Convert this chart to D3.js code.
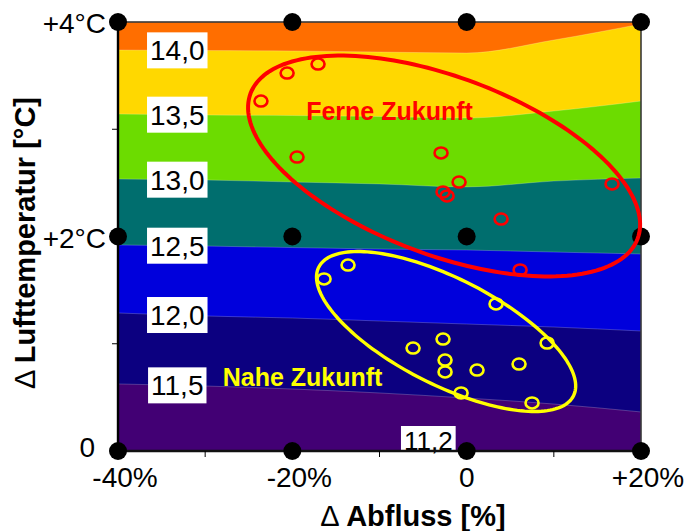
<!DOCTYPE html>
<html>
<head>
<meta charset="utf-8">
<script src="https://cdn.jsdelivr.net/npm/d3@7"></script>
<style>
  body { margin: 0; background: #fff; }
  text { font-family: "Liberation Sans", Arial, sans-serif; }
</style>
</head>
<body>
<svg id="chart" width="686" height="531"></svg>
<script>
// Abfluss change (%) at which each isoline is sampled
const abflussGrid = [-40, -30, -20, -10, 0, 10, 20];

// Isolines of water temperature (°C): air-temperature change at each grid point
const iso11_5 = [0.625, 0.606, 0.578, 0.541, 0.494, 0.438, 0.364];
const iso12_0 = [1.287, 1.259, 1.240, 1.212, 1.184, 1.156, 1.119];
const iso12_5 = [1.921, 1.911, 1.897, 1.883, 1.874, 1.855, 1.837];
const iso13_0 = [2.536, 2.527, 2.508, 2.490, 2.462, 2.517, 2.545];
const iso13_5 = [3.142, 3.133, 3.128, 3.119, 3.105, 3.170, 3.263];
const iso14_0 = [3.739, 3.734, 3.730, 3.720, 3.711, 3.832, 3.981];
const levelLabels = ["11,5", "12,0", "12,5", "13,0", "13,5", "14,0"];
const minimumLabel = "11,2";

// Band fills from the coldest band to the warmest
const bandColors = ["#420074", "#0c0080", "#0000dc", "#006e6e", "#6cdc00", "#ffd800", "#ff6e00"];

// Climate-model scenarios
const ferneAbfluss = [-23.6, -20.6, -17.05, -19.46, -2.94, -0.87, -2.71, -2.25, 3.95, 6.13, 16.68];
const ferneTemp    = [3.263, 3.524, 3.608, 2.741, 2.779, 2.508, 2.415, 2.378, 2.163, 1.688, 2.490];
const naheAbfluss  = [-13.61, -16.36, 3.37, 9.23, -6.15, -2.71, -2.48, -2.48, 1.19, 6.01, -0.64, 7.5];
const naheTemp     = [1.734, 1.604, 1.371, 1.007, 0.960, 1.044, 0.848, 0.737, 0.755, 0.811, 0.541, 0.448];

// Envelope ellipses: centre and the two half-axes, in data units
const ferneEllipse = { center: [-2.59, 2.657], major: [22.2, -0.678], minor: [-3.59, -0.775] };
const naheEllipse  = { center: [-2.36, 1.114], major: [14.61, -0.600], minor: [-2.75, -0.443] };

// Axes
const xTickValues = [-40, -20, 0, 20];
const xTickLabels = ["-40%", "-20%", "0", "+20%"];
const xMinorTicks = [-30, -10, 10];
const yTickValues = [0, 2, 4];
const yTickLabels = ["0", "+2°C", "+4°C"];
const yMinorTicks = [1, 3];

const svg = d3.select("#chart");
const plot = { left: 118, right: 641, top: 22, bottom: 451 };

const x = d3.scaleLinear().domain([-40, 20]).range([plot.left, plot.right]);
const y = d3.scaleLinear().domain([0, 4]).range([plot.bottom, plot.top]);

svg.append("defs").append("clipPath").attr("id", "plotClip")
  .append("rect")
  .attr("x", plot.left).attr("y", plot.top)
  .attr("width", plot.right - plot.left).attr("height", plot.bottom - plot.top);

const isolines = [iso11_5, iso12_0, iso12_5, iso13_0, iso13_5, iso14_0];

// Filled contour bands: each isoline is filled up to the top edge with the band above it
const bands = svg.append("g").attr("clip-path", "url(#plotClip)");
bands.append("rect")
  .attr("x", plot.left).attr("y", plot.top)
  .attr("width", plot.right - plot.left).attr("height", plot.bottom - plot.top)
  .attr("fill", bandColors[0]);

const upperArea = d3.area()
  .x(d => x(d[0]))
  .y0(y(4) - 2)
  .y1(d => y(d[1]))
  .curve(d3.curveMonotoneX);
const isoLine = d3.line()
  .x(d => x(d[0]))
  .y(d => y(d[1]))
  .curve(d3.curveMonotoneX);

isolines.forEach((vals, i) => {
  const pts = abflussGrid.map((a, j) => [a, vals[j]]);
  bands.append("path").attr("d", upperArea(pts)).attr("fill", bandColors[i + 1]);
});
isolines.forEach((vals) => {
  const pts = abflussGrid.map((a, j) => [a, vals[j]]);
  bands.append("path").attr("d", isoLine(pts))
    .attr("fill", "none").attr("stroke", "rgba(255,255,255,0.22)").attr("stroke-width", 1);
});

// Isoline labels in white boxes
function isoAt(vals, a) {
  const j = Math.min(abflussGrid.length - 2, d3.bisectRight(abflussGrid, a) - 1);
  const t = (a - abflussGrid[j]) / (abflussGrid[j + 1] - abflussGrid[j]);
  return vals[j] + t * (vals[j + 1] - vals[j]);
}
const labelG = svg.append("g");
function boxedLabel(txt, cx, cy, size, boxH, baselineShift) {
  const g = labelG.append("g");
  const rect = g.append("rect").attr("fill", "#fff");
  const t = g.append("text")
    .attr("x", cx).attr("y", cy + baselineShift)
    .attr("text-anchor", "middle")
    .attr("font-size", size).attr("fill", "#000")
    .text(txt);
  const w = t.node().getComputedTextLength();
  rect.attr("x", cx - w / 2 - 3).attr("y", cy - boxH / 2)
    .attr("width", w + 6).attr("height", boxH);
}
isolines.forEach((vals, i) => {
  const a = -33.2;
  boxedLabel(levelLabels[i], x(a), y(isoAt(vals, a)), 28, 36, 10);
});

// Minimum value label sitting on the bottom edge
boxedLabel(minimumLabel, x(-4.4), y(0) - 12.5, 26, 25, 11);

// Frame
svg.append("rect")
  .attr("x", plot.left).attr("y", plot.top)
  .attr("width", plot.right - plot.left).attr("height", plot.bottom - plot.top)
  .attr("fill", "none").attr("stroke", "#3a3a3a").attr("stroke-width", 1.6);

svg.append("line")
  .attr("x1", plot.left).attr("x2", plot.left)
  .attr("y1", plot.top).attr("y2", plot.bottom + 1)
  .attr("stroke", "#000").attr("stroke-width", 2.4);
svg.append("line")
  .attr("x1", plot.left).attr("x2", plot.right)
  .attr("y1", plot.bottom).attr("y2", plot.bottom)
  .attr("stroke", "#111").attr("stroke-width", 2.4);

// Minor ticks
svg.append("g").selectAll("line").data(xMinorTicks).join("line")
  .attr("x1", d => x(d)).attr("x2", d => x(d))
  .attr("y1", plot.bottom).attr("y2", plot.bottom + 6)
  .attr("stroke", "#000").attr("stroke-width", 1);
svg.append("g").selectAll("line").data(yMinorTicks).join("line")
  .attr("x1", plot.left - 6).attr("x2", plot.left)
  .attr("y1", d => y(d)).attr("y2", d => y(d))
  .attr("stroke", "#000").attr("stroke-width", 1);

// Grid-corner markers
const corners = [];
xTickValues.forEach(a => yTickValues.forEach(t => corners.push([a, t])));
svg.append("g").selectAll("circle").data(corners).join("circle")
  .attr("cx", d => x(d[0])).attr("cy", d => y(d[1]))
  .attr("r", 9).attr("fill", "#000");

// Tick labels
svg.append("g").selectAll("text").data(xTickValues).join("text")
  .attr("x", (d, i) => x(d) + (xTickLabels[i].includes("%") ? 7 : 0))
  .attr("y", 487)
  .attr("text-anchor", "middle")
  .attr("font-size", 28)
  .text((d, i) => xTickLabels[i]);
svg.append("g").selectAll("text").data(yTickValues).join("text")
  .attr("x", (d, i) => yTickLabels[i] === "0" ? 95 : 106)
  .attr("y", (d, i) => y(d) + (yTickLabels[i] === "0" ? 6 : 11))
  .attr("text-anchor", "end")
  .attr("font-size", 28)
  .text((d, i) => yTickLabels[i]);

// Axis titles
const xTitle = svg.append("text")
  .attr("x", 413).attr("y", 526)
  .attr("text-anchor", "middle")
  .attr("font-size", 29).attr("font-weight", "bold");
xTitle.append("tspan").attr("font-weight", "normal").text("Δ ");
xTitle.append("tspan").text("Abfluss [%]");

const yTitle = svg.append("text")
  .attr("transform", "translate(35,243) rotate(-90)")
  .attr("text-anchor", "middle")
  .attr("font-size", 29).attr("font-weight", "bold");
yTitle.append("tspan").attr("font-weight", "normal").text("Δ ");
yTitle.append("tspan").text("Lufttemperatur [°C]");

// Scenario envelopes
function ellipsePath(e) {
  const pts = d3.range(0, 2 * Math.PI, Math.PI / 90).map(t => [
    x(e.center[0] + Math.cos(t) * e.major[0] + Math.sin(t) * e.minor[0]),
    y(e.center[1] + Math.cos(t) * e.major[1] + Math.sin(t) * e.minor[1])
  ]);
  return d3.line().curve(d3.curveLinearClosed)(pts);
}
svg.append("path").attr("d", ellipsePath(ferneEllipse))
  .attr("fill", "none").attr("stroke", "#ff0000").attr("stroke-width", 4);
svg.append("path").attr("d", ellipsePath(naheEllipse))
  .attr("fill", "none").attr("stroke", "#ffff00").attr("stroke-width", 3.4);

// Scenario points
function drawPoints(ax, tv, color) {
  svg.append("g").selectAll("ellipse").data(ax.map((a, i) => [a, tv[i]])).join("ellipse")
    .attr("cx", d => x(d[0])).attr("cy", d => y(d[1]))
    .attr("rx", 6.5).attr("ry", 5.5)
    .attr("fill", "none").attr("stroke", color).attr("stroke-width", 2.6);
}
drawPoints(ferneAbfluss, ferneTemp, "#ff0000");
drawPoints(naheAbfluss, naheTemp, "#ffff00");

// Scenario names
svg.append("text")
  .attr("x", x(-8.85)).attr("y", y(3.086))
  .attr("text-anchor", "middle")
  .attr("font-size", 25).attr("font-weight", "bold").attr("fill", "#ff0000")
  .text("Ferne Zukunft");
svg.append("text")
  .attr("x", x(-18.83)).attr("y", y(0.606))
  .attr("text-anchor", "middle")
  .attr("font-size", 25).attr("font-weight", "bold").attr("fill", "#ffff00")
  .text("Nahe Zukunft");
</script>
</body>
</html>
